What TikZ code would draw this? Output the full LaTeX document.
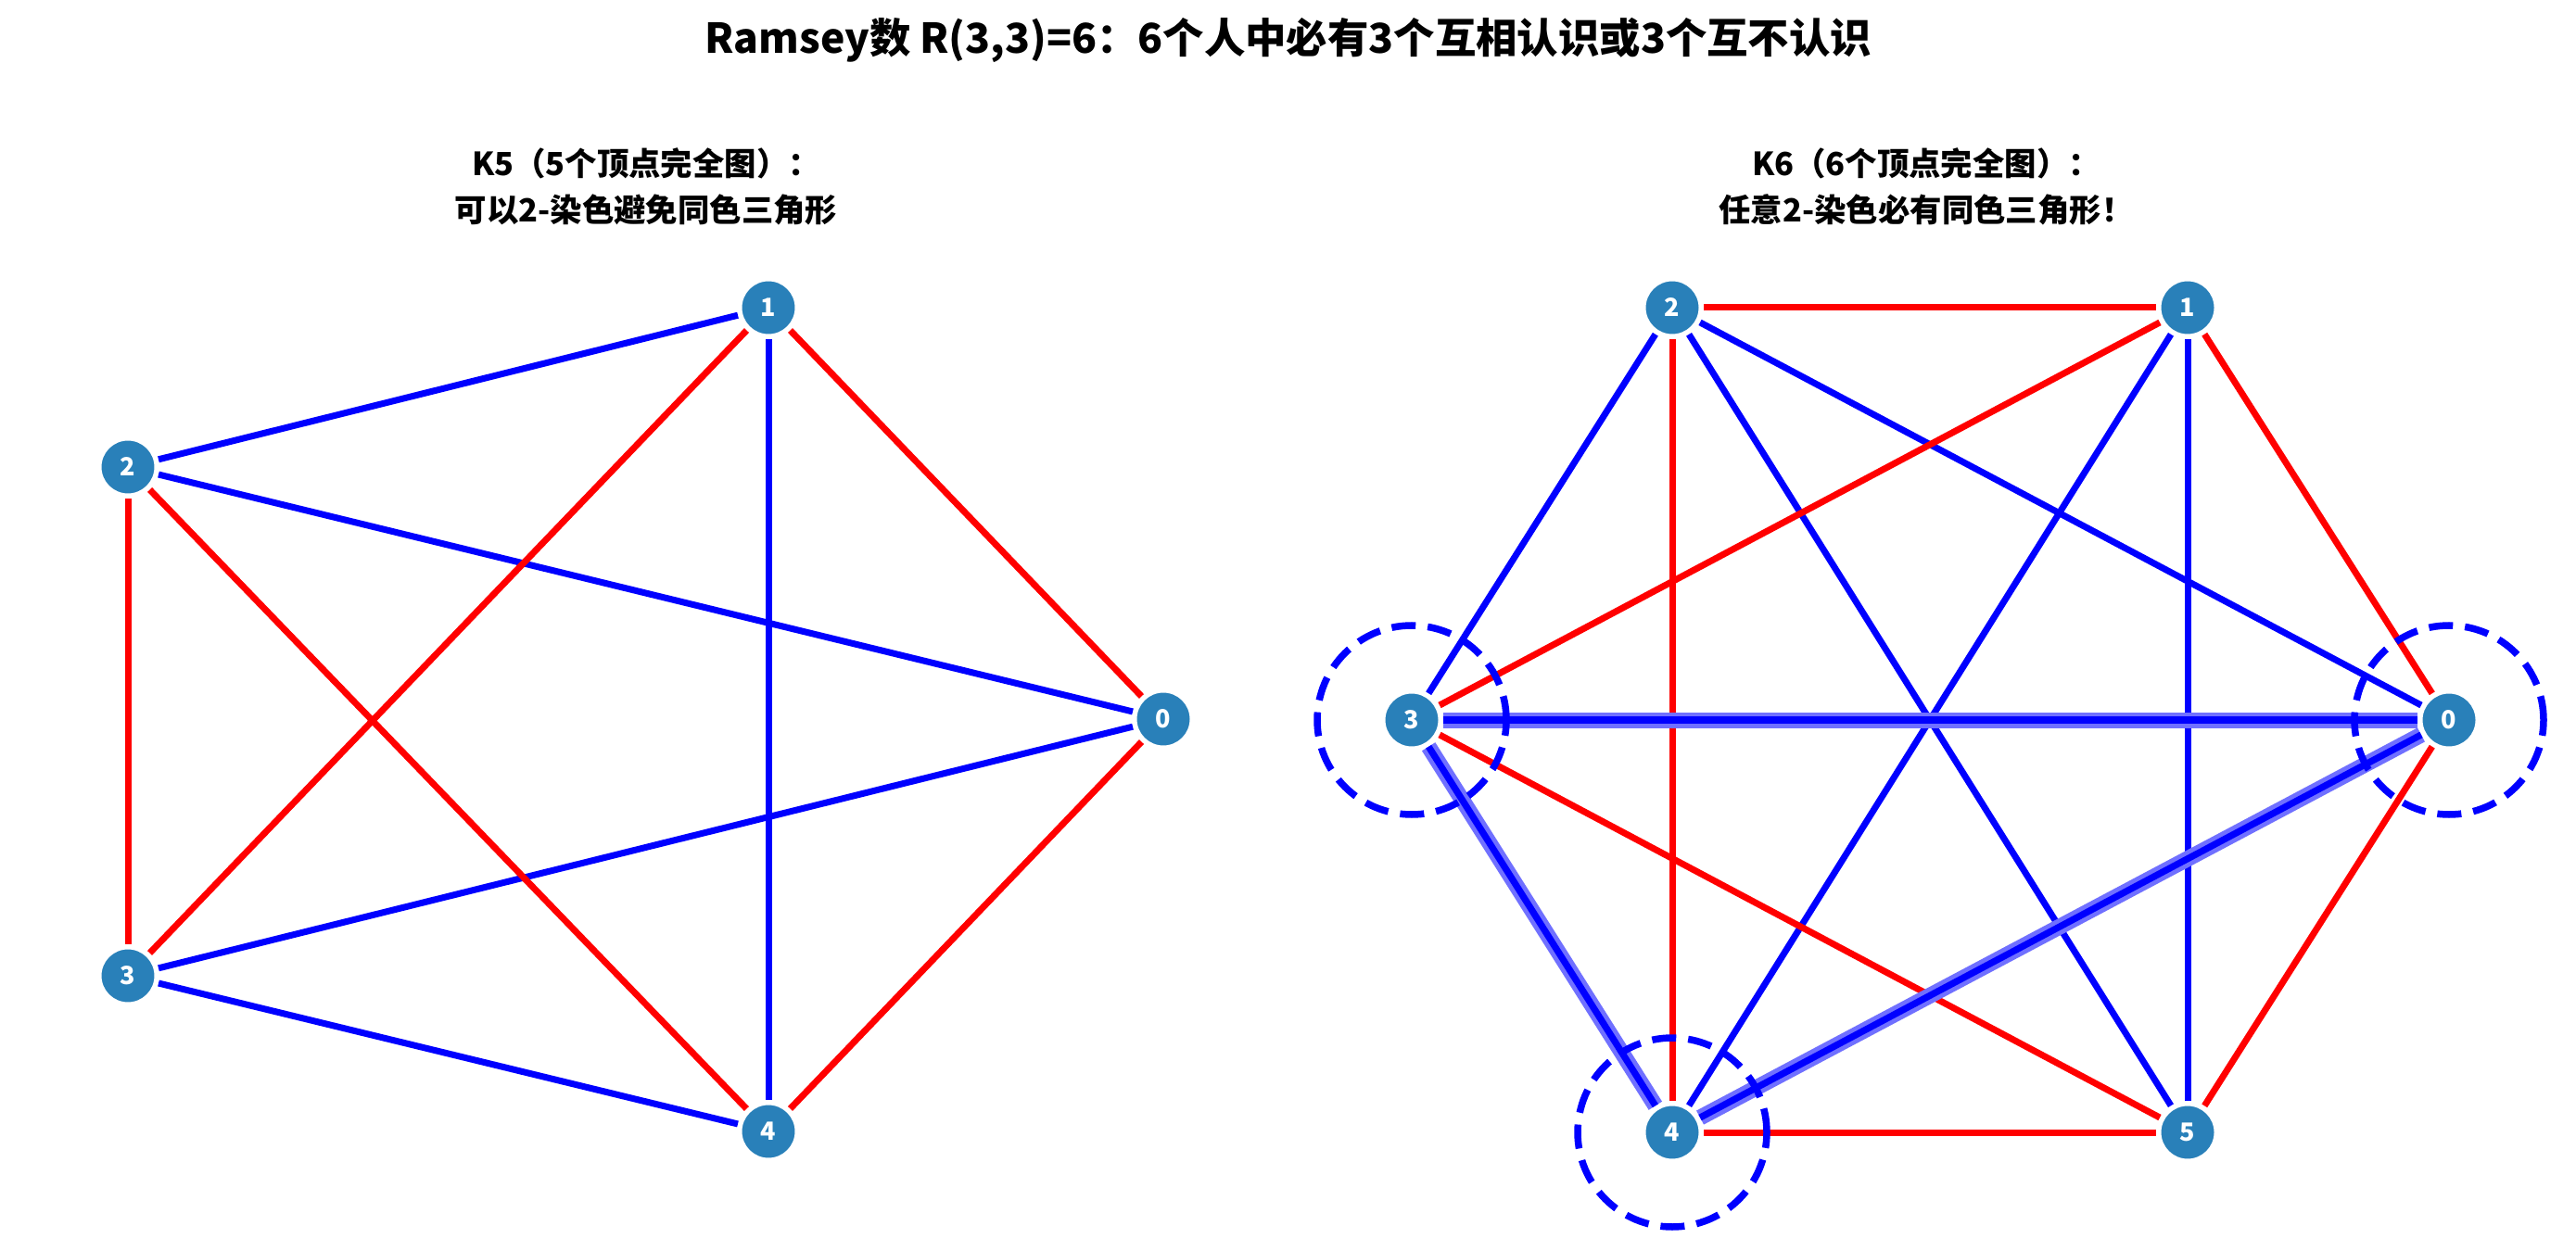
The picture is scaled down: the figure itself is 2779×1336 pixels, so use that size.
\documentclass[tikz,border=0pt]{standalone}
\usepackage{fontspec}
\setmainfont{Noto Sans CJK SC}
\definecolor{nodeblue}{RGB}{41,128,185}
\definecolor{halo}{RGB}{112,112,255}
\pgfdeclarelayer{bg}
\pgfdeclarelayer{mid}
\pgfsetlayers{bg,mid,main}
\begin{document}
\begin{tikzpicture}[x=0.5pt,y=-0.5pt,
  vtx/.style={circle,fill=nodeblue,draw=white,line width=1.5pt,minimum size=30pt,inner sep=0pt,outer sep=2pt,text=white,font=\bfseries\fontsize{13.5}{13.5}\selectfont},
  redE/.style={draw=red,line width=3.5pt},
  blueE/.style={draw=blue,line width=3.5pt},
  haloE/.style={draw=halo,line width=8.5pt},
  coreE/.style={draw=blue,line width=3.6pt},
  dashc/.style={draw=blue,line width=3.75pt,dash pattern=on 13pt off 6.5pt},
  ttl/.style={font=\bfseries\fontsize{22.2}{26}\selectfont},
  sub/.style={font=\bfseries\fontsize{17.2}{25}\selectfont,align=center}]
\useasboundingbox (0,0) rectangle (2779,1336);
% titles
\node[ttl] (title) at (1390,43) {Ramsey数 R(3,3)=6：6个人中必有3个互相认识或3个互不认识};
\node[sub] (subL) at (697,201) {K5（5个顶点完全图）：\\可以2-染色避免同色三角形};
\node[sub] (subR) at (2078,201) {K6（6个顶点完全图）：\\任意2-染色必有同色三角形！};
% K5 nodes
\node[vtx] (a0) at (1255,776) {0};
\node[vtx] (a1) at (829,332) {1};
\node[vtx] (a2) at (138,504) {2};
\node[vtx] (a3) at (138,1053) {3};
\node[vtx] (a4) at (829,1221) {4};
% K6 nodes
\node[vtx] (b0) at (2642,777) {0};
\node[vtx] (b1) at (2360,332) {1};
\node[vtx] (b2) at (1804,332) {2};
\node[vtx] (b3) at (1523,777) {3};
\node[vtx] (b4) at (1804,1222) {4};
\node[vtx] (b5) at (2360,1222) {5};
\begin{pgfonlayer}{bg}
% K5 edges
\draw[redE] (a0) -- (a1);
\draw[blueE] (a0) -- (a2);
\draw[blueE] (a0) -- (a3);
\draw[redE] (a0) -- (a4);
\draw[blueE] (a1) -- (a2);
\draw[redE] (a1) -- (a3);
\draw[blueE] (a1) -- (a4);
\draw[redE] (a2) -- (a3);
\draw[redE] (a2) -- (a4);
\draw[blueE] (a3) -- (a4);
% K6 edges
\draw[redE] (b2) -- (b1);
\draw[redE] (b1) -- (b0);
\draw[blueE] (b2) -- (b3);
\draw[redE] (b2) -- (b4);
\draw[blueE] (b2) -- (b5);
\draw[blueE] (b2) -- (b0);
\draw[redE] (b1) -- (b3);
\draw[blueE] (b1) -- (b4);
\draw[blueE] (b1) -- (b5);
\draw[redE] (b3) -- (b5);
\draw[redE] (b4) -- (b5);
\draw[redE] (b0) -- (b5);
% highlighted triangle
\draw[haloE] (b3) -- (b0);
\draw[haloE] (b3) -- (b4);
\draw[haloE] (b4) -- (b0);
\draw[coreE] (b3) -- (b0);
\draw[coreE] (b3) -- (b4);
\draw[coreE] (b4) -- (b0);
\end{pgfonlayer}
\begin{pgfonlayer}{mid}
\draw[dashc] (b3) circle[radius=51pt];
\draw[dashc] (b4) circle[radius=51pt];
\draw[dashc] (b0) circle[radius=51pt];
\end{pgfonlayer}
\end{tikzpicture}
\end{document}
